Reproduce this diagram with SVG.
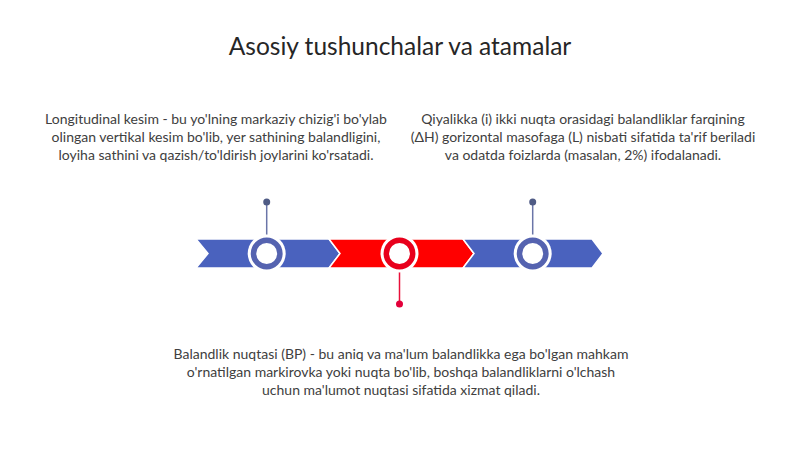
<svg xmlns="http://www.w3.org/2000/svg" width="800" height="449" viewBox="0 0 800 449">
<style>
.t{font-family:Lato,"Open Sans","Liberation Sans",sans-serif;fill:#404040;font-size:14px;text-anchor:middle}
.title{font-family:Lato,"Open Sans","Liberation Sans",sans-serif;fill:#262626;font-size:24.5px;text-anchor:middle}
.seg{stroke:#ffffff;stroke-width:1.5}
.blue{fill:#4A62BE}
.red{fill:#FF0000}
.halo{fill:#ffffff}
.ringb{fill:#ffffff;stroke:#5563B0;stroke-width:5.5}
.ringr{fill:#ffffff;stroke:#E8001C;stroke-width:5.5}
.stemb{stroke:#6A75A8;stroke-width:1.5}
.stemr{stroke:#E8103A;stroke-width:1.5}
</style>
<rect width="800" height="449" fill="#ffffff"/>
<text class="title" x="400" y="55">Asosiy tushunchalar va atamalar</text>
<g id="bar">
<polygon class="seg blue" points="196,239 329,239 340,253.5 329,268 196,268 208,253.5"/>
<polygon class="seg red" points="329,239 463,239 474,253.5 463,268 329,268 340,253.5"/>
<polygon class="seg blue" points="463,239 592,239 603,253.5 592,268 463,268 474,253.5"/>
</g>
<g id="connectors">
<line class="stemb" x1="266.7" y1="202" x2="266.7" y2="236"/>
<circle cx="266.7" cy="202" r="3.5" fill="#4F5B85"/>
<line class="stemr" x1="399.5" y1="271" x2="399.5" y2="304"/>
<circle cx="399.5" cy="304" r="3.5" fill="#E3003A"/>
<line class="stemb" x1="532.7" y1="202" x2="532.7" y2="236"/>
<circle cx="532.7" cy="202" r="3.5" fill="#4F5B85"/>
</g>
<g id="node1">
<circle class="halo" cx="266.7" cy="253.5" r="19"/>
<circle class="ringb" cx="266.7" cy="253.5" r="13.2"/>
<text class="t" x="216" y="124">Longitudinal kesim - bu yo'lning markaziy chizig'i bo'ylab</text>
<text class="t" x="216" y="142">olingan vertikal kesim bo'lib, yer sathining balandligini,</text>
<text class="t" x="216" y="160">loyiha sathini va qazish/to'ldirish joylarini ko'rsatadi.</text>
</g>
<g id="node2">
<circle class="halo" cx="399.5" cy="253.5" r="19"/>
<circle class="ringr" cx="399.5" cy="253.5" r="13.2"/>
<text class="t" x="401" y="359">Balandlik nuqtasi (BP) - bu aniq va ma'lum balandlikka ega bo'lgan mahkam</text>
<text class="t" x="401" y="377">o'rnatilgan markirovka yoki nuqta bo'lib, boshqa balandliklarni o'lchash</text>
<text class="t" x="401" y="395">uchun ma'lumot nuqtasi sifatida xizmat qiladi.</text>
</g>
<g id="node3">
<circle class="halo" cx="532.7" cy="253.5" r="19"/>
<circle class="ringb" cx="532.7" cy="253.5" r="13.2"/>
<text class="t" x="583" y="124">Qiyalikka (i) ikki nuqta orasidagi balandliklar farqining</text>
<text class="t" x="583" y="142">(ΔH) gorizontal masofaga (L) nisbati sifatida ta'rif beriladi</text>
<text class="t" x="583" y="160">va odatda foizlarda (masalan, 2%) ifodalanadi.</text>
</g>
</svg>
